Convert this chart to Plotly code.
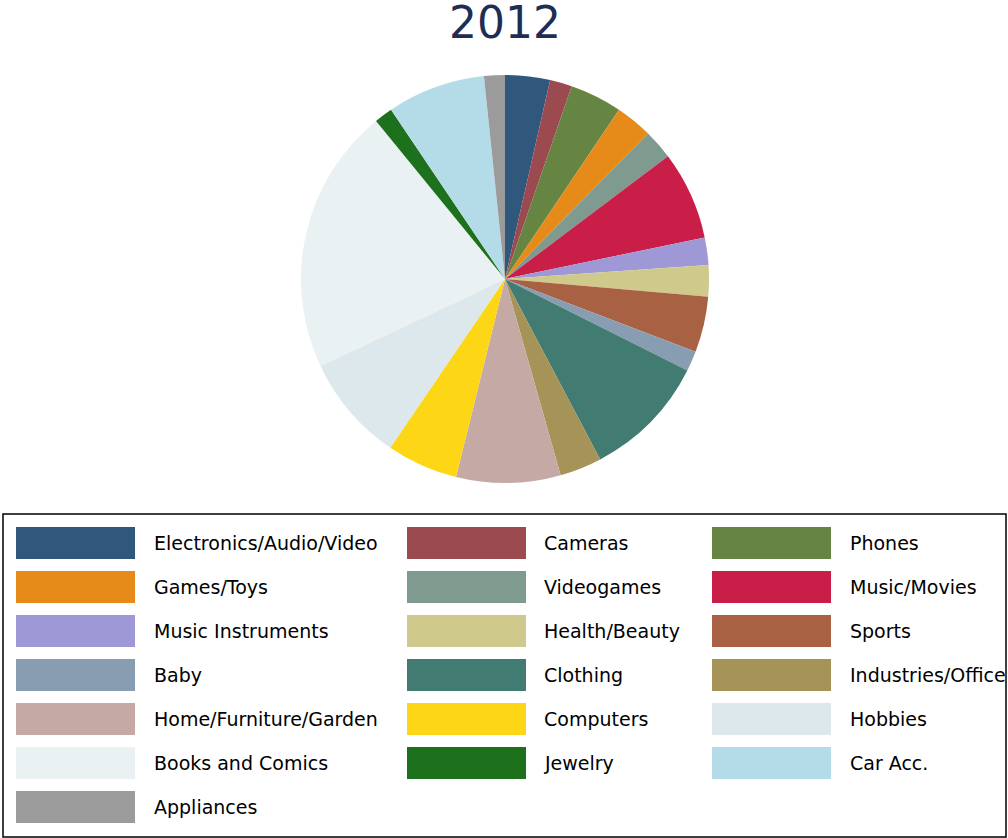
import plotly.graph_objects as go

# Share of sales by category, 2012 (percent)
categories = [
    "Electronics/Audio/Video", "Cameras", "Phones", "Games/Toys", "Videogames",
    "Music/Movies", "Music Instruments", "Health/Beauty", "Sports", "Baby",
    "Clothing", "Industries/Office", "Home/Furniture/Garden", "Computers",
    "Hobbies", "Books and Comics", "Jewelry", "Car Acc.", "Appliances",
]
shares = [3.55, 1.75, 4.13, 2.93, 2.36, 7.0, 2.18, 2.48, 4.41, 1.6,
          9.86, 3.33, 8.25, 5.65, 8.48, 21.1, 1.46, 7.78, 1.65]
colors = [
    "#30587c", "#9b4a50", "#668543", "#e68a1a", "#7f9a8e", "#c81e48",
    "#9f98d6", "#cfc98c", "#a86142", "#889db2", "#417b72", "#a69357",
    "#c5a9a5", "#fdd616", "#dde8ed", "#e9f1f3", "#1e711c", "#b4dce8",
    "#9b9b9b",
]
title_text = "2012"

W, H = 1008, 838


def px(x):
    return x / W


def py(y):
    return 1 - y / H


fig = go.Figure(
    go.Pie(
        labels=categories,
        values=shares,
        marker=dict(colors=colors, line=dict(width=0)),
        sort=False,
        direction="clockwise",
        rotation=0,
        textinfo="none",
        showlegend=False,
        domain=dict(x=[px(301), px(709)], y=[py(483), py(75)]),
    )
)

shapes = []
annotations = [
    dict(
        text=title_text, x=px(505), y=py(23), xref="paper", yref="paper",
        showarrow=False, xanchor="center", yanchor="middle",
        font=dict(family="DejaVu Sans", size=44, color="#1f2d52"),
    )
]

# Legend frame
shapes.append(dict(
    type="rect", xref="paper", yref="paper",
    x0=px(3), x1=px(1006), y0=py(837), y1=py(514),
    line=dict(color="black", width=1.5), fillcolor="rgba(0,0,0,0)",
))

# Legend entries: three columns, filled row by row
col_swatch_x = [16, 407, 712]
col_text_x = [154, 544, 850]
row_y0, row_step = 543, 44
sw_w, sw_h = 119, 32
for i, (name, col) in enumerate(zip(categories, colors)):
    r, c = divmod(i, 3)
    cy = row_y0 + r * row_step
    x0 = col_swatch_x[c]
    shapes.append(dict(
        type="rect", xref="paper", yref="paper",
        x0=px(x0), x1=px(x0 + sw_w), y0=py(cy + sw_h / 2), y1=py(cy - sw_h / 2),
        line=dict(width=0), fillcolor=col,
    ))
    annotations.append(dict(
        text=name, x=px(col_text_x[c]), y=py(cy), xref="paper", yref="paper",
        showarrow=False, xanchor="left", yanchor="middle", xshift=-2,
        font=dict(family="DejaVu Sans", size=19, color="black"),
    ))

fig.update_layout(
    width=W, height=H,
    margin=dict(l=0, r=0, t=0, b=0),
    paper_bgcolor="white", plot_bgcolor="white",
    shapes=shapes, annotations=annotations,
)

fig.write_html("out.html")
